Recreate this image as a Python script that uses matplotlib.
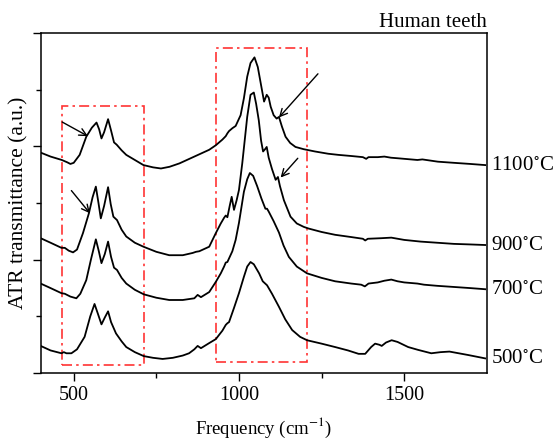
import matplotlib
matplotlib.use("Agg")
import matplotlib.pyplot as plt
from matplotlib.patches import Rectangle

plt.rcParams['font.family'] = ['Liberation Serif', 'DejaVu Serif']
plt.rcParams['mathtext.fontset'] = 'stix'

# spectra (frequency in cm-1, offset transmittance in a.u.)
freq_1100 = [400, 430, 464, 480, 490, 500, 518, 538, 555, 569, 577, 584, 592, 604, 613, 622,
             630, 645, 659, 685, 711, 740, 764, 790, 820, 850, 880, 910, 930, 950, 960, 965,
             970, 980, 990, 1005, 1015, 1025, 1035, 1047, 1057, 1066, 1076, 1084, 1090, 1096,
             1105, 1114, 1121, 1130, 1141, 1155, 1171, 1196, 1230, 1270, 1301, 1340, 1375,
             1385, 1392, 1420, 1440, 1460, 1481, 1540, 1555, 1602, 1650, 1700, 1745]
t_1100 = [3.89, 3.82, 3.76, 3.72, 3.69, 3.71, 3.85, 4.17, 4.33, 4.42, 4.30, 4.14, 4.25, 4.48,
          4.28, 4.07, 4.03, 3.93, 3.85, 3.76, 3.67, 3.63, 3.61, 3.64, 3.70, 3.78, 3.86, 3.94,
          4.02, 4.12, 4.18, 4.23, 4.27, 4.32, 4.36, 4.55, 4.85, 5.23, 5.47, 5.57, 5.40, 5.11,
          4.79, 4.91, 4.86, 4.70, 4.55, 4.49, 4.52, 4.35, 4.17, 4.06, 3.99, 3.95, 3.91, 3.87,
          3.85, 3.83, 3.81, 3.78, 3.81, 3.81, 3.82, 3.80, 3.79, 3.76, 3.77, 3.73, 3.71, 3.69,
          3.67]

freq_900 = [400, 430, 463, 473, 485, 498, 510, 528, 546, 557, 567, 575, 582, 592, 604, 612,
            620, 631, 645, 659, 685, 711, 750, 789, 830, 860, 870, 880, 910, 930, 945, 955,
            960, 965, 972, 978, 985, 993, 1000, 1010, 1025, 1035, 1045, 1052, 1060, 1067,
            1073, 1079, 1084, 1090, 1100, 1111, 1118, 1124, 1136, 1156, 1175, 1196, 1211,
            1250, 1291, 1340, 1375, 1382, 1390, 1430, 1461, 1500, 1550, 1600, 1650, 1700, 1745]
t_900 = [2.38, 2.30, 2.21, 2.21, 2.16, 2.13, 2.18, 2.47, 2.82, 3.10, 3.29, 3.00, 2.73, 2.95,
         3.28, 2.98, 2.76, 2.70, 2.53, 2.41, 2.30, 2.23, 2.14, 2.08, 2.08, 2.12, 2.14, 2.15,
         2.23, 2.47, 2.64, 2.74, 2.78, 2.75, 2.95, 3.11, 2.88, 3.05, 3.23, 3.70, 4.52, 4.91,
         4.95, 4.75, 4.46, 4.10, 3.91, 3.95, 3.99, 3.80, 3.60, 3.41, 3.46, 3.30, 3.05, 2.76,
         2.64, 2.58, 2.55, 2.49, 2.44, 2.40, 2.37, 2.34, 2.37, 2.38, 2.39, 2.35, 2.32, 2.30,
         2.28, 2.27, 2.26]

freq_700 = [400, 430, 463, 473, 490, 508, 520, 538, 552, 567, 576, 584, 594, 604, 613, 622,
            631, 645, 659, 685, 712, 750, 789, 830, 865, 875, 885, 910, 930, 945, 955, 960,
            965, 980, 990, 1000, 1015, 1025, 1033, 1043, 1055, 1068, 1080, 1085, 1090, 1105,
            1121, 1135, 1151, 1175, 1206, 1250, 1291, 1340, 1370, 1381, 1392, 1420, 1440,
            1461, 1480, 1500, 1540, 1560, 1600, 1650, 1700, 1745]
t_700 = [1.58, 1.50, 1.41, 1.40, 1.35, 1.32, 1.40, 1.64, 2.00, 2.36, 2.15, 1.94, 2.10, 2.32,
         2.05, 1.86, 1.82, 1.68, 1.58, 1.47, 1.39, 1.33, 1.29, 1.29, 1.32, 1.38, 1.34, 1.43,
         1.61, 1.76, 1.88, 1.95, 1.96, 2.15, 2.35, 2.65, 3.20, 3.42, 3.53, 3.48, 3.30, 3.08,
         2.90, 2.90, 2.85, 2.68, 2.48, 2.25, 2.05, 1.88, 1.76, 1.68, 1.62, 1.58, 1.56, 1.53,
         1.58, 1.60, 1.63, 1.65, 1.62, 1.60, 1.58, 1.56, 1.54, 1.52, 1.50, 1.48]

freq_500 = [400, 430, 463, 470, 478, 493, 510, 533, 550, 563, 573, 584, 594, 604, 613, 628,
            645, 659, 685, 712, 740, 769, 800, 830, 849, 865, 875, 885, 910, 930, 950, 960,
            965, 970, 985, 1000, 1015, 1025, 1035, 1045, 1061, 1072, 1085, 1100, 1121, 1140,
            1161, 1185, 1206, 1250, 1291, 1330, 1362, 1382, 1400, 1412, 1425, 1432, 1445,
            1462, 1480, 1512, 1542, 1582, 1610, 1637, 1665, 1693, 1745]
t_500 = [0.48, 0.40, 0.35, 0.37, 0.35, 0.35, 0.42, 0.64, 1.00, 1.22, 1.05, 0.86, 0.98, 1.09,
         0.90, 0.70, 0.56, 0.46, 0.37, 0.30, 0.27, 0.25, 0.27, 0.31, 0.35, 0.42, 0.48, 0.44,
         0.53, 0.60, 0.75, 0.85, 0.88, 0.90, 1.15, 1.41, 1.70, 1.88, 1.96, 1.92, 1.76, 1.62,
         1.55, 1.40, 1.17, 0.95, 0.76, 0.64, 0.58, 0.52, 0.46, 0.40, 0.34, 0.34, 0.46, 0.52,
         0.50, 0.48, 0.54, 0.58, 0.55, 0.46, 0.41, 0.35, 0.37, 0.38, 0.35, 0.32, 0.26]

labels = ['1100$^{\\circ}$C', '900$^{\\circ}$C', '700$^{\\circ}$C', '500$^{\\circ}$C']

# dash-dot boxes: (x0, x1, y0, y1)
box_low = (464, 712, 0.15, 4.71)
box_high = (930, 1207, 0.19, 5.74)

# arrows: (tail x, tail y, head x, head y)
arrows = [(465, 4.43, 543, 4.18),
          (493, 3.22, 549, 2.82),
          (1239, 5.28, 1121, 4.51),
          (1178, 3.79, 1126, 3.45)]

fig = plt.figure(figsize=(5.57, 4.40), dpi=100)
ax = fig.add_axes([0.073, 0.152, 0.801, 0.773])

series = [(freq_1100, t_1100), (freq_900, t_900), (freq_700, t_700), (freq_500, t_500)]
for (f, t), lab in zip(series, labels):
    ax.plot(f, t, color='black', lw=1.3, solid_joinstyle='round')
    ax.annotate(lab, xy=(1.0, t[-1]), xycoords=('axes fraction', 'data'),
                xytext=(3, 0), textcoords='offset points',
                ha='left', va='center', fontsize=15, annotation_clip=False)

for x0, x1, y0, y1 in (box_low, box_high):
    ax.add_patch(Rectangle((x0, y0), x1 - x0, y1 - y0, fill=False, ec='#ff3333',
                           lw=1.2, ls=(0, (6, 2.5, 1.5, 2.5))))

for xt, yt, xh, yh in arrows:
    ax.annotate('', xy=(xh, yh), xytext=(xt, yt),
                arrowprops=dict(arrowstyle='->', color='black', lw=1.0,
                                mutation_scale=13, shrinkA=0, shrinkB=0))

ax.set_xlim(400, 1750)
ax.set_ylim(0, 6)
ax.set_xticks([500, 1000, 1500])
ax.set_xticks([750, 1250], minor=True)
ax.set_yticks([0, 2, 4, 6])
ax.set_yticks([1, 3, 5], minor=True)
ax.set_yticklabels([])
ax.tick_params(which='major', length=6, width=1.0, labelsize=14.5)
ax.tick_params(which='minor', length=3.5, width=1.0)
for s in ax.spines.values():
    s.set_linewidth(1.1)

ax.set_xlabel('Frequency (cm$^{-1}$)', fontsize=13.5)
ax.set_ylabel('ATR transmittance (a.u.)', fontsize=15.5)
ax.xaxis.set_label_coords(0.5, -0.125)
ax.yaxis.set_label_coords(-0.027, 0.5)
ax.set_title('Human teeth', loc='right', fontsize=15, pad=4)

fig.savefig('out.png', dpi=100)
